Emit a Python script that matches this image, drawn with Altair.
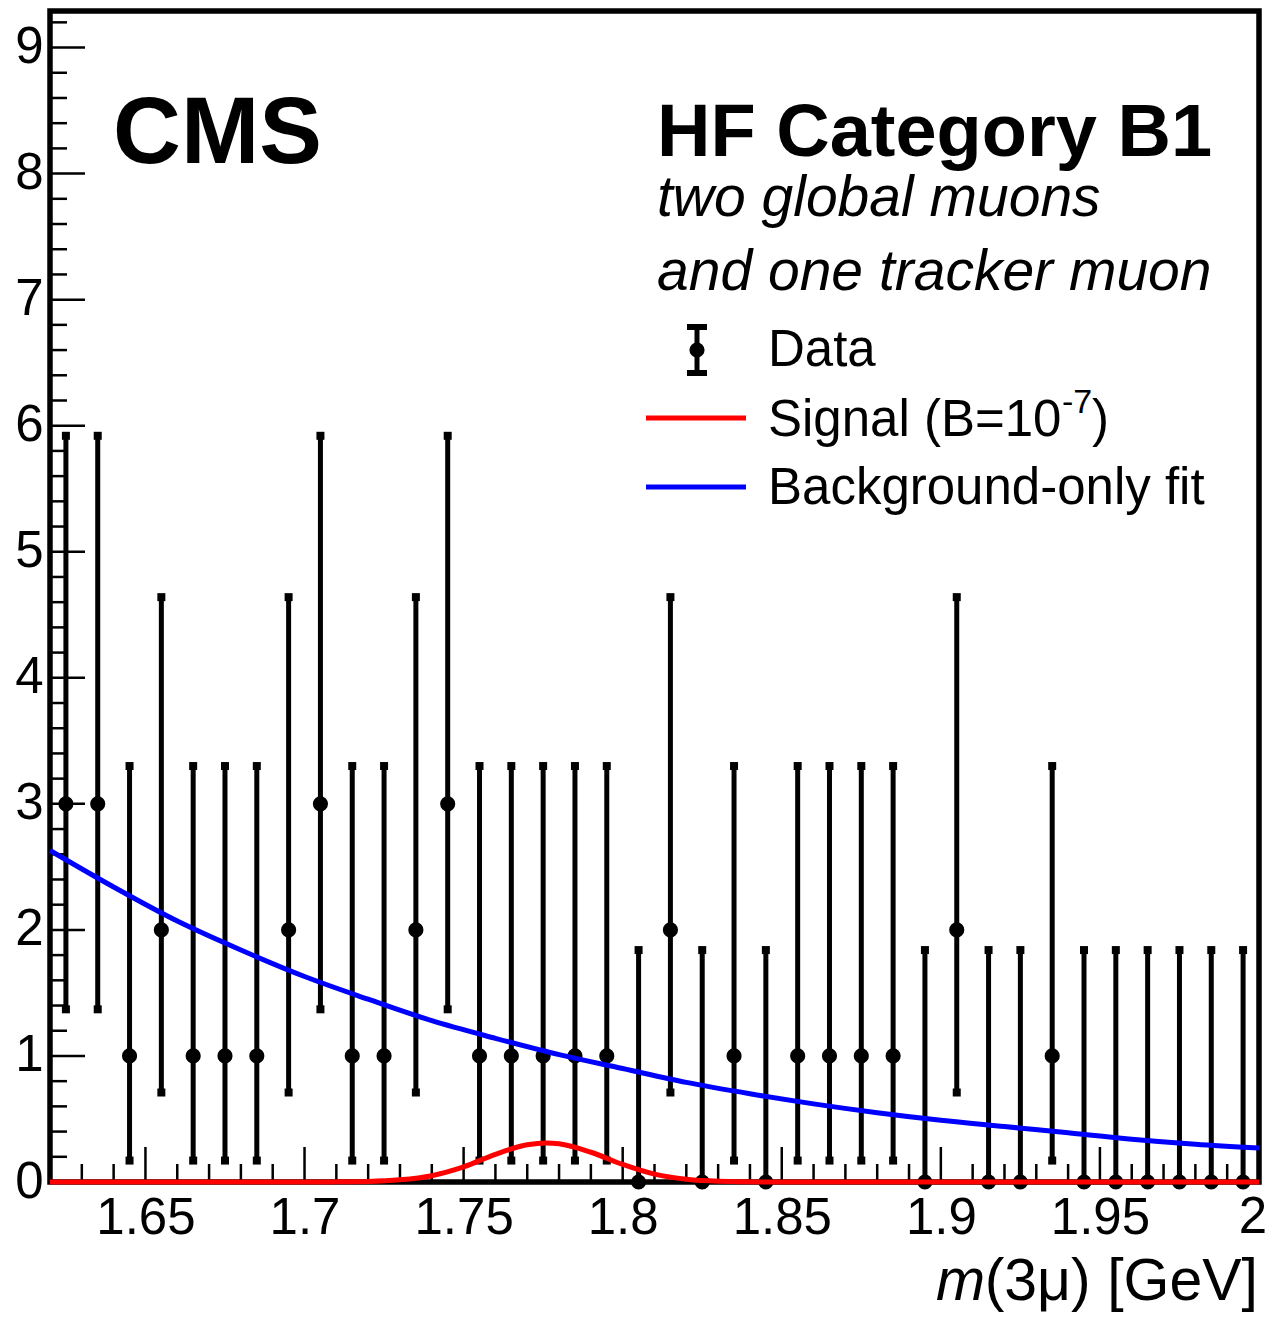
import altair as alt
import pandas as pd

FONT = "Liberation Sans"

# ---- data ----
bin_centers = [1.625, 1.635, 1.645, 1.655, 1.665, 1.675, 1.685, 1.695, 1.705, 1.715,
               1.725, 1.735, 1.745, 1.755, 1.765, 1.775, 1.785, 1.795, 1.805, 1.815,
               1.825, 1.835, 1.845, 1.855, 1.865, 1.875, 1.885, 1.895, 1.905, 1.915,
               1.925, 1.935, 1.945, 1.955, 1.965, 1.975, 1.985, 1.995]
counts = [3, 3, 1, 2, 1, 1, 1, 2, 3, 1,
          1, 2, 3, 1, 1, 1, 1, 1, 0, 2,
          0, 1, 0, 1, 1, 1, 1, 0, 2, 0,
          0, 1, 0, 0, 0, 0, 0, 0]
# Poisson interval ends, per count
err_low = {0: 0.0, 1: 0.17, 2: 0.71, 3: 1.37}
err_high = {0: 1.84, 1: 3.30, 2: 4.64, 3: 5.92}

bkg_x = [1.62, 1.64, 1.66, 1.68, 1.70, 1.72, 1.74, 1.76, 1.78, 1.80,
         1.82, 1.84, 1.86, 1.88, 1.90, 1.92, 1.94, 1.96, 1.98, 2.00]
bkg_y = [2.63, 2.34, 2.07, 1.84, 1.63, 1.45, 1.28, 1.14, 1.01, 0.90,
         0.79, 0.70, 0.62, 0.55, 0.49, 0.44, 0.39, 0.34, 0.30, 0.27]

sig_x = [1.62, 1.70, 1.71, 1.72, 1.73, 1.74, 1.75, 1.76, 1.77, 1.776,
         1.78, 1.79, 1.80, 1.81, 1.82, 1.83, 1.85, 2.00]
sig_y = [0.0, 0.0, 0.001, 0.004, 0.017, 0.05, 0.12, 0.22, 0.295, 0.31,
         0.303, 0.236, 0.139, 0.062, 0.021, 0.006, 0.0, 0.0]

x_major = [1.65, 1.7, 1.75, 1.8, 1.85, 1.9, 1.95, 2.0]
x_major_labels = [1.65, 1.7, 1.75, 1.8, 1.85, 1.9, 1.95]
y_major = [0, 1, 2, 3, 4, 5, 6, 7, 8, 9]
x_minor = [round(1.62 + 0.01 * i, 2) for i in range(39)]
x_minor = [v for v in x_minor if all(abs(v - m) > 1e-6 for m in x_major)]
y_minor = [round(0.2 * i, 1) for i in range(47)]
y_minor = [v for v in y_minor if abs(v - round(v)) > 1e-6]

X_DOMAIN = [1.62, 2.0]
Y_DOMAIN = [0, 9.29]
W, H = 1209, 1171

data = pd.DataFrame({
    "x": bin_centers,
    "n": counts,
    "lo": [err_low[c] for c in counts],
    "hi": [err_high[c] for c in counts],
})
caps = pd.DataFrame({
    "x": bin_centers * 2,
    "y": [err_low[c] for c in counts] + [err_high[c] for c in counts],
})
bkg = pd.DataFrame({"x": bkg_x, "y": bkg_y})
sig = pd.DataFrame({"x": sig_x, "y": sig_y})

xs = alt.Scale(domain=X_DOMAIN, nice=False, zero=False)
ys = alt.Scale(domain=Y_DOMAIN, nice=False, zero=False)

x_axis = alt.Axis(values=x_major_labels, format="~g", ticks=False, domain=False, grid=False,
                  labelFont=FONT, labelFontSize=51, labelColor="black", labelPadding=11,
                  labelBound=False, labelFlush=False, labelOverlap=False, title=None)
y_axis = alt.Axis(values=y_major, format="d", ticks=False, domain=False, grid=False,
                  labelFont=FONT, labelFontSize=51, labelColor="black", labelPadding=7,
                  labelBound=False, labelFlush=False, labelOverlap=False, title=None)

base = alt.Chart(data)

err = base.mark_rule(color="black", strokeWidth=5).encode(
    x=alt.X("x:Q", scale=xs, axis=x_axis),
    y=alt.Y("lo:Q", scale=ys, axis=y_axis),
    y2="hi:Q",
)
capm = alt.Chart(caps).mark_square(color="black", opacity=1, size=64).encode(
    x=alt.X("x:Q", scale=xs), y=alt.Y("y:Q", scale=ys))
pts = base.mark_circle(color="black", opacity=1, size=230).encode(
    x=alt.X("x:Q", scale=xs), y=alt.Y("n:Q", scale=ys))

bkg_line = alt.Chart(bkg).mark_line(color="#0000ff", strokeWidth=5, interpolate="monotone").encode(
    x=alt.X("x:Q", scale=xs), y=alt.Y("y:Q", scale=ys))
sig_line = alt.Chart(sig).mark_line(color="#ff0000", strokeWidth=5, interpolate="monotone").encode(
    x=alt.X("x:Q", scale=xs), y=alt.Y("y:Q", scale=ys))

# last x tick label, nudged so that it stays inside the page
last_label = alt.Chart(pd.DataFrame({"v": [2.0]})).mark_text(
    text="2", font=FONT, fontSize=51, align="center", baseline="top", dx=-6, color="black").encode(
    x=alt.X("v:Q", scale=xs), y=alt.value(H + 11))

# inside ticks
def xticks(vals, length):
    return alt.Chart(pd.DataFrame({"v": vals})).mark_rule(color="black", strokeWidth=2.5).encode(
        x=alt.X("v:Q", scale=xs), y=alt.value(H), y2=alt.value(H - length))

def yticks(vals, length):
    return alt.Chart(pd.DataFrame({"v": vals})).mark_rule(color="black", strokeWidth=2.5).encode(
        y=alt.Y("v:Q", scale=ys), x=alt.value(0), x2=alt.value(length))

def label(text, x, y, size, weight="normal", style="normal", align="left"):
    return alt.Chart(pd.DataFrame({"t": [text]})).mark_text(
        text=text, font=FONT, fontSize=size, fontWeight=weight, fontStyle=style,
        align=align, baseline="alphabetic", color="black").encode(
        x=alt.value(x), y=alt.value(y))

def hline(x1, x2, y, color, width):
    return alt.Chart(pd.DataFrame({"a": [0]})).mark_rule(color=color, strokeWidth=width).encode(
        x=alt.value(x1), x2=alt.value(x2), y=alt.value(y))

def vline(x, y1, y2, color, width):
    return alt.Chart(pd.DataFrame({"a": [0]})).mark_rule(color=color, strokeWidth=width).encode(
        x=alt.value(x), y=alt.value(y1), y2=alt.value(y2))

legend_pt = alt.Chart(pd.DataFrame({"a": [0]})).mark_circle(color="black", opacity=1, size=230).encode(
    x=alt.value(647), y=alt.value(339))

layers = [
    xticks(x_minor, 18), xticks(x_major, 35),
    yticks(y_minor, 17), yticks([v for v in y_major if v > 0], 35),
    err, capm, pts, bkg_line, sig_line, last_label,
    label("CMS", 63, 152, 94, weight="bold"),
    label("HF Category B1", 607, 145, 74, weight="bold"),
    label("two global muons", 607, 205, 57, style="italic"),
    label("and one tracker muon", 607, 279, 57, style="italic"),
    vline(647, 316, 362, "black", 5), hline(637, 657, 316, "black", 6), hline(637, 657, 362, "black", 6),
    legend_pt,
    label("Data", 718, 355, 51),
    hline(596, 696, 407, "#ff0000", 5),
    label("Signal (B=10", 718, 425, 51),
    label("-7", 1012, 402, 34),
    label(")", 1042, 425, 51),
    hline(596, 696, 476, "#0000ff", 5),
    label("Background-only fit", 718, 493, 51),
    label("(3\u03bc) [GeV]", 1208, 1289, 59, align="right"),
    label("m", 886, 1289, 59, style="italic"),
]

chart = alt.layer(*layers).properties(
    width=W, height=H,
    autosize=alt.AutoSizeParams(type="none"),
    padding={"left": 42, "top": 3, "right": 7, "bottom": 133},
    background="white",
).configure_view(stroke="black", strokeWidth=5.5)

chart.save("out.html", embed_options={"renderer": "svg", "actions": False})
